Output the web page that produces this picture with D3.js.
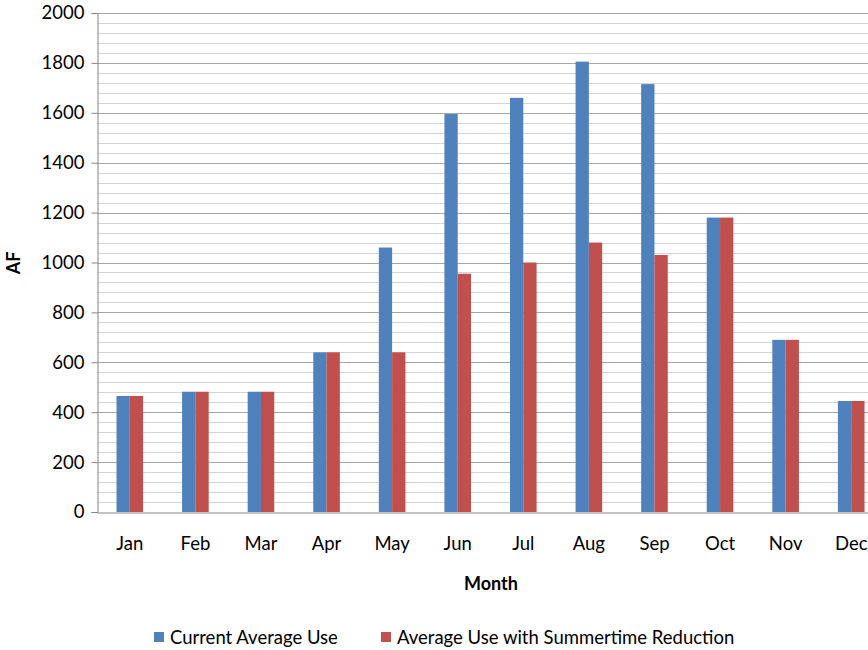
<!DOCTYPE html>
<html><head><meta charset="utf-8">
<script src="https://cdn.jsdelivr.net/npm/d3@7"></script>
<style>body{margin:0;background:#fff}svg{display:block}text{font-family:Lato,"Open Sans",sans-serif;fill:#000}</style>
</head><body>
<script>
const months = ["Jan","Feb","Mar","Apr","May","Jun","Jul","Aug","Sep","Oct","Nov","Dec"];
const currentUse = [465,482,482,640,1060,1595,1660,1805,1715,1180,690,445];
const reducedUse = [465,482,482,640,640,955,1000,1080,1030,1180,690,445];
const seriesNames = ["Current Average Use","Average Use with Summertime Reduction"];
const seriesColors = ["#4f81bd","#c0504d"];
const yTicks = [0,200,400,600,800,1000,1200,1400,1600,1800,2000];

(function(){
const W = 868, H = 650;
const mLeft = 97, mTop = 13, mBottom = 512, plotRight = 884;
const FS = 18.5;
const svg = d3.select("body").append("svg").attr("width", W).attr("height", H);

const y = d3.scaleLinear().domain([0, 2000]).range([mBottom, mTop]);
const x = d3.scaleBand().domain(months).range([mLeft, plotRight]).paddingInner(0).paddingOuter(0);
const xs = d3.scaleBand().domain([0,1]).range([0, 26.6]);

// minor gridlines
const minor = d3.range(40, 2001, 40).filter(v => v % 200 !== 0);
svg.append("g").selectAll("line").data(minor).join("line")
  .attr("x1", mLeft).attr("x2", W).attr("y1", d => Math.round(y(d)) + 0.5).attr("y2", d => Math.round(y(d)) + 0.5)
  .attr("stroke", "#d4d4d4").attr("stroke-width", 1);
svg.append("g").selectAll("line").data(yTicks.filter(d => d > 0)).join("line")
  .attr("x1", mLeft).attr("x2", W).attr("y1", d => Math.round(y(d)) + 0.5).attr("y2", d => Math.round(y(d)) + 0.5)
  .attr("stroke", "#a6a6a6").attr("stroke-width", 1);

// bars
const data = months.map((m, i) => ({m, vals: [currentUse[i], reducedUse[i]]}));
const groups = svg.append("g").selectAll("g").data(data).join("g")
  .attr("transform", d => `translate(${x(d.m) + (x.bandwidth() - 26.6) / 2},0)`);
groups.selectAll("rect").data(d => d.vals.map((v, k) => ({v, k}))).join("rect")
  .attr("x", d => xs(d.k)).attr("width", xs.bandwidth())
  .attr("y", d => y(d.v)).attr("height", d => y(0) - y(d.v))
  .attr("fill", d => seriesColors[d.k]);

// y axis
const yAxis = d3.axisLeft(y).tickValues(yTicks).tickSize(6).tickPadding(7).tickFormat(d3.format("d"));
const gy = svg.append("g").attr("transform", `translate(${mLeft + 0.5},0)`).call(yAxis);
gy.select(".domain").attr("stroke", "#868686");
gy.selectAll(".tick line").attr("stroke", "#868686");
gy.selectAll(".tick text").attr("font-size", FS).attr("font-family", "Lato, sans-serif");

// x axis
const xAxis = d3.axisBottom(x).tickSize(0).tickPadding(24);
const gx = svg.append("g").attr("transform", `translate(0,${mBottom + 0.5})`).call(xAxis);
gx.select(".domain").attr("stroke", "#868686");
gx.selectAll(".tick text").attr("font-size", FS).attr("font-family", "Lato, sans-serif");

// axis titles
svg.append("text").attr("x", 491).attr("y", 590).attr("text-anchor", "middle")
  .attr("font-size", 18).attr("font-weight", "bold").text("Month");
svg.append("text").attr("transform", "translate(20,263) rotate(-90)").attr("text-anchor", "middle")
  .attr("font-size", 18).attr("font-weight", "bold").text("AF");

// legend
const legX = [154, 381];
const leg = svg.append("g").selectAll("g").data(seriesNames).join("g")
  .attr("transform", (d, i) => `translate(${legX[i]},637)`);
leg.append("rect").attr("x", 0).attr("y", -5).attr("width", 10).attr("height", 10)
  .attr("fill", (d, i) => seriesColors[i]);
leg.append("text").attr("x", 16).attr("y", 6.5).attr("font-size", FS).text(d => d);
})();
</script>
</body></html>
